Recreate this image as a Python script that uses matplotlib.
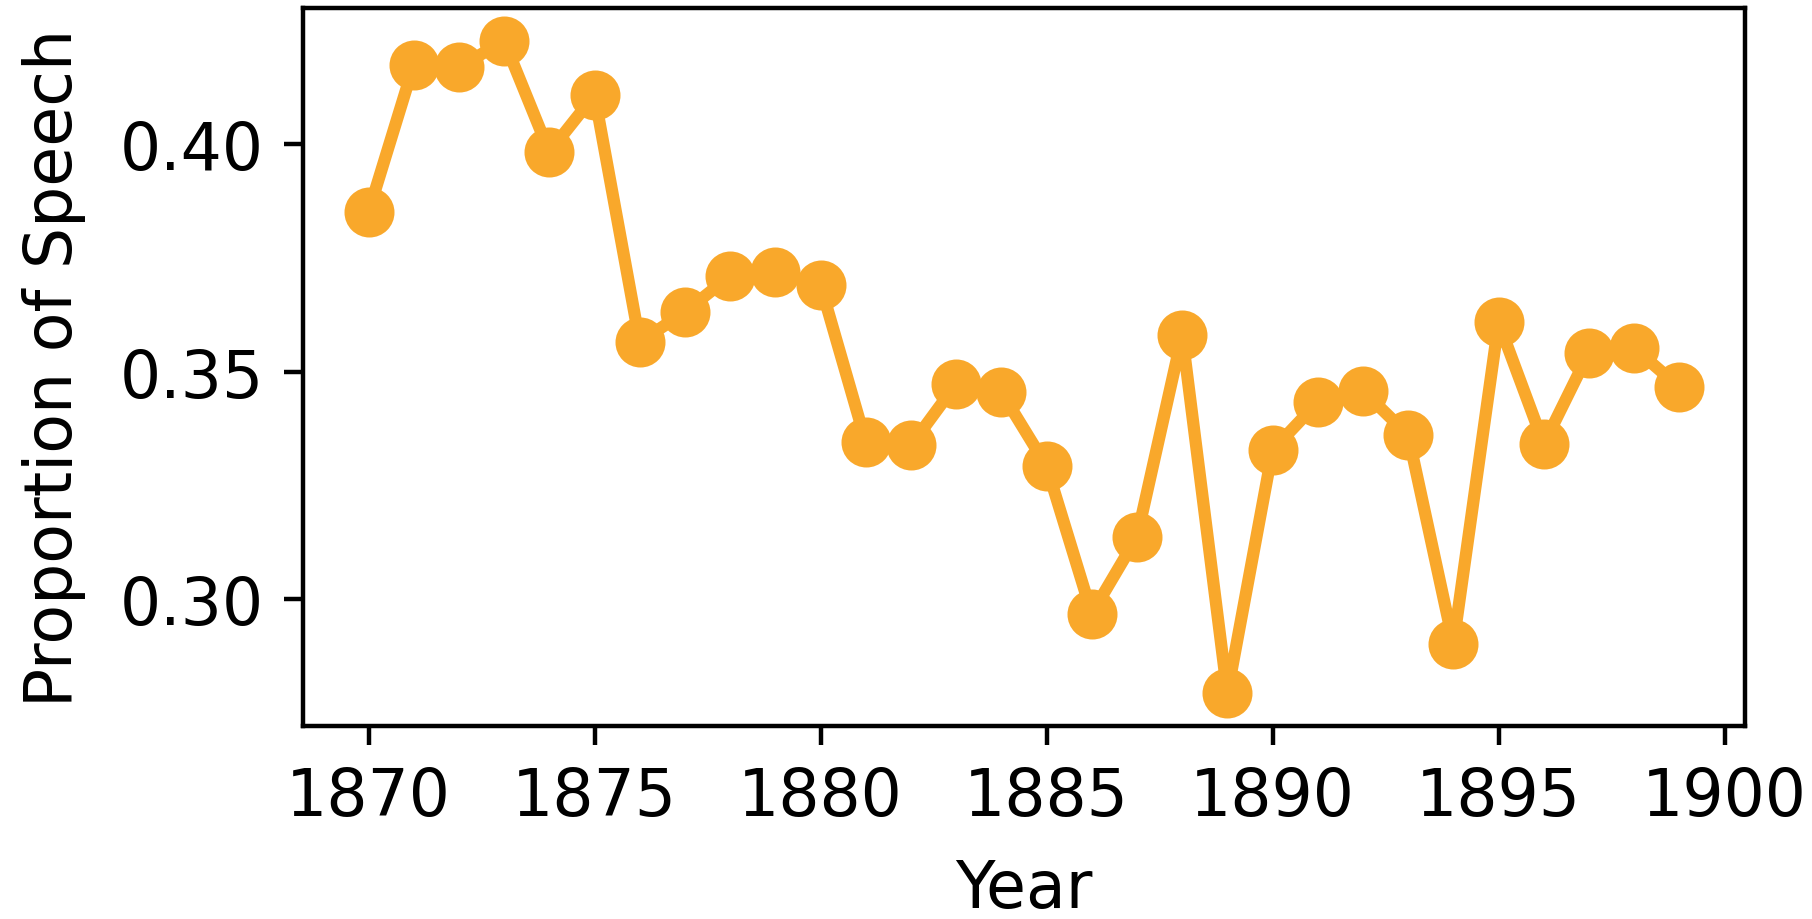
import matplotlib
matplotlib.use("Agg")
import matplotlib.pyplot as plt

# yearly share of speech
years = list(range(1870, 1900))
proportion = [0.385, 0.4173, 0.4168, 0.4226, 0.3982, 0.4107, 0.3565, 0.3631,
              0.3710, 0.3718, 0.3690, 0.3346, 0.3338, 0.3473, 0.3455, 0.3293,
              0.2969, 0.3137, 0.3580, 0.2794, 0.3328, 0.3433, 0.3458, 0.3361,
              0.2903, 0.3608, 0.3341, 0.3542, 0.3552, 0.3466]

plt.rcParams["font.size"] = 11.7

fig = plt.figure(figsize=(4.53, 2.3), dpi=400)
ax = fig.add_axes([0.1672, 0.2098, 0.7958, 0.7802])

ax.plot(years, proportion, color="#F9A82B", linewidth=2.2,
        marker="o", markersize=8)

ax.set_xlabel("Year", labelpad=5)
ax.set_ylabel("Proportion of Speech", labelpad=6)
ax.set_yticks([0.30, 0.35, 0.40])

fig.savefig("out.png", dpi=400)
